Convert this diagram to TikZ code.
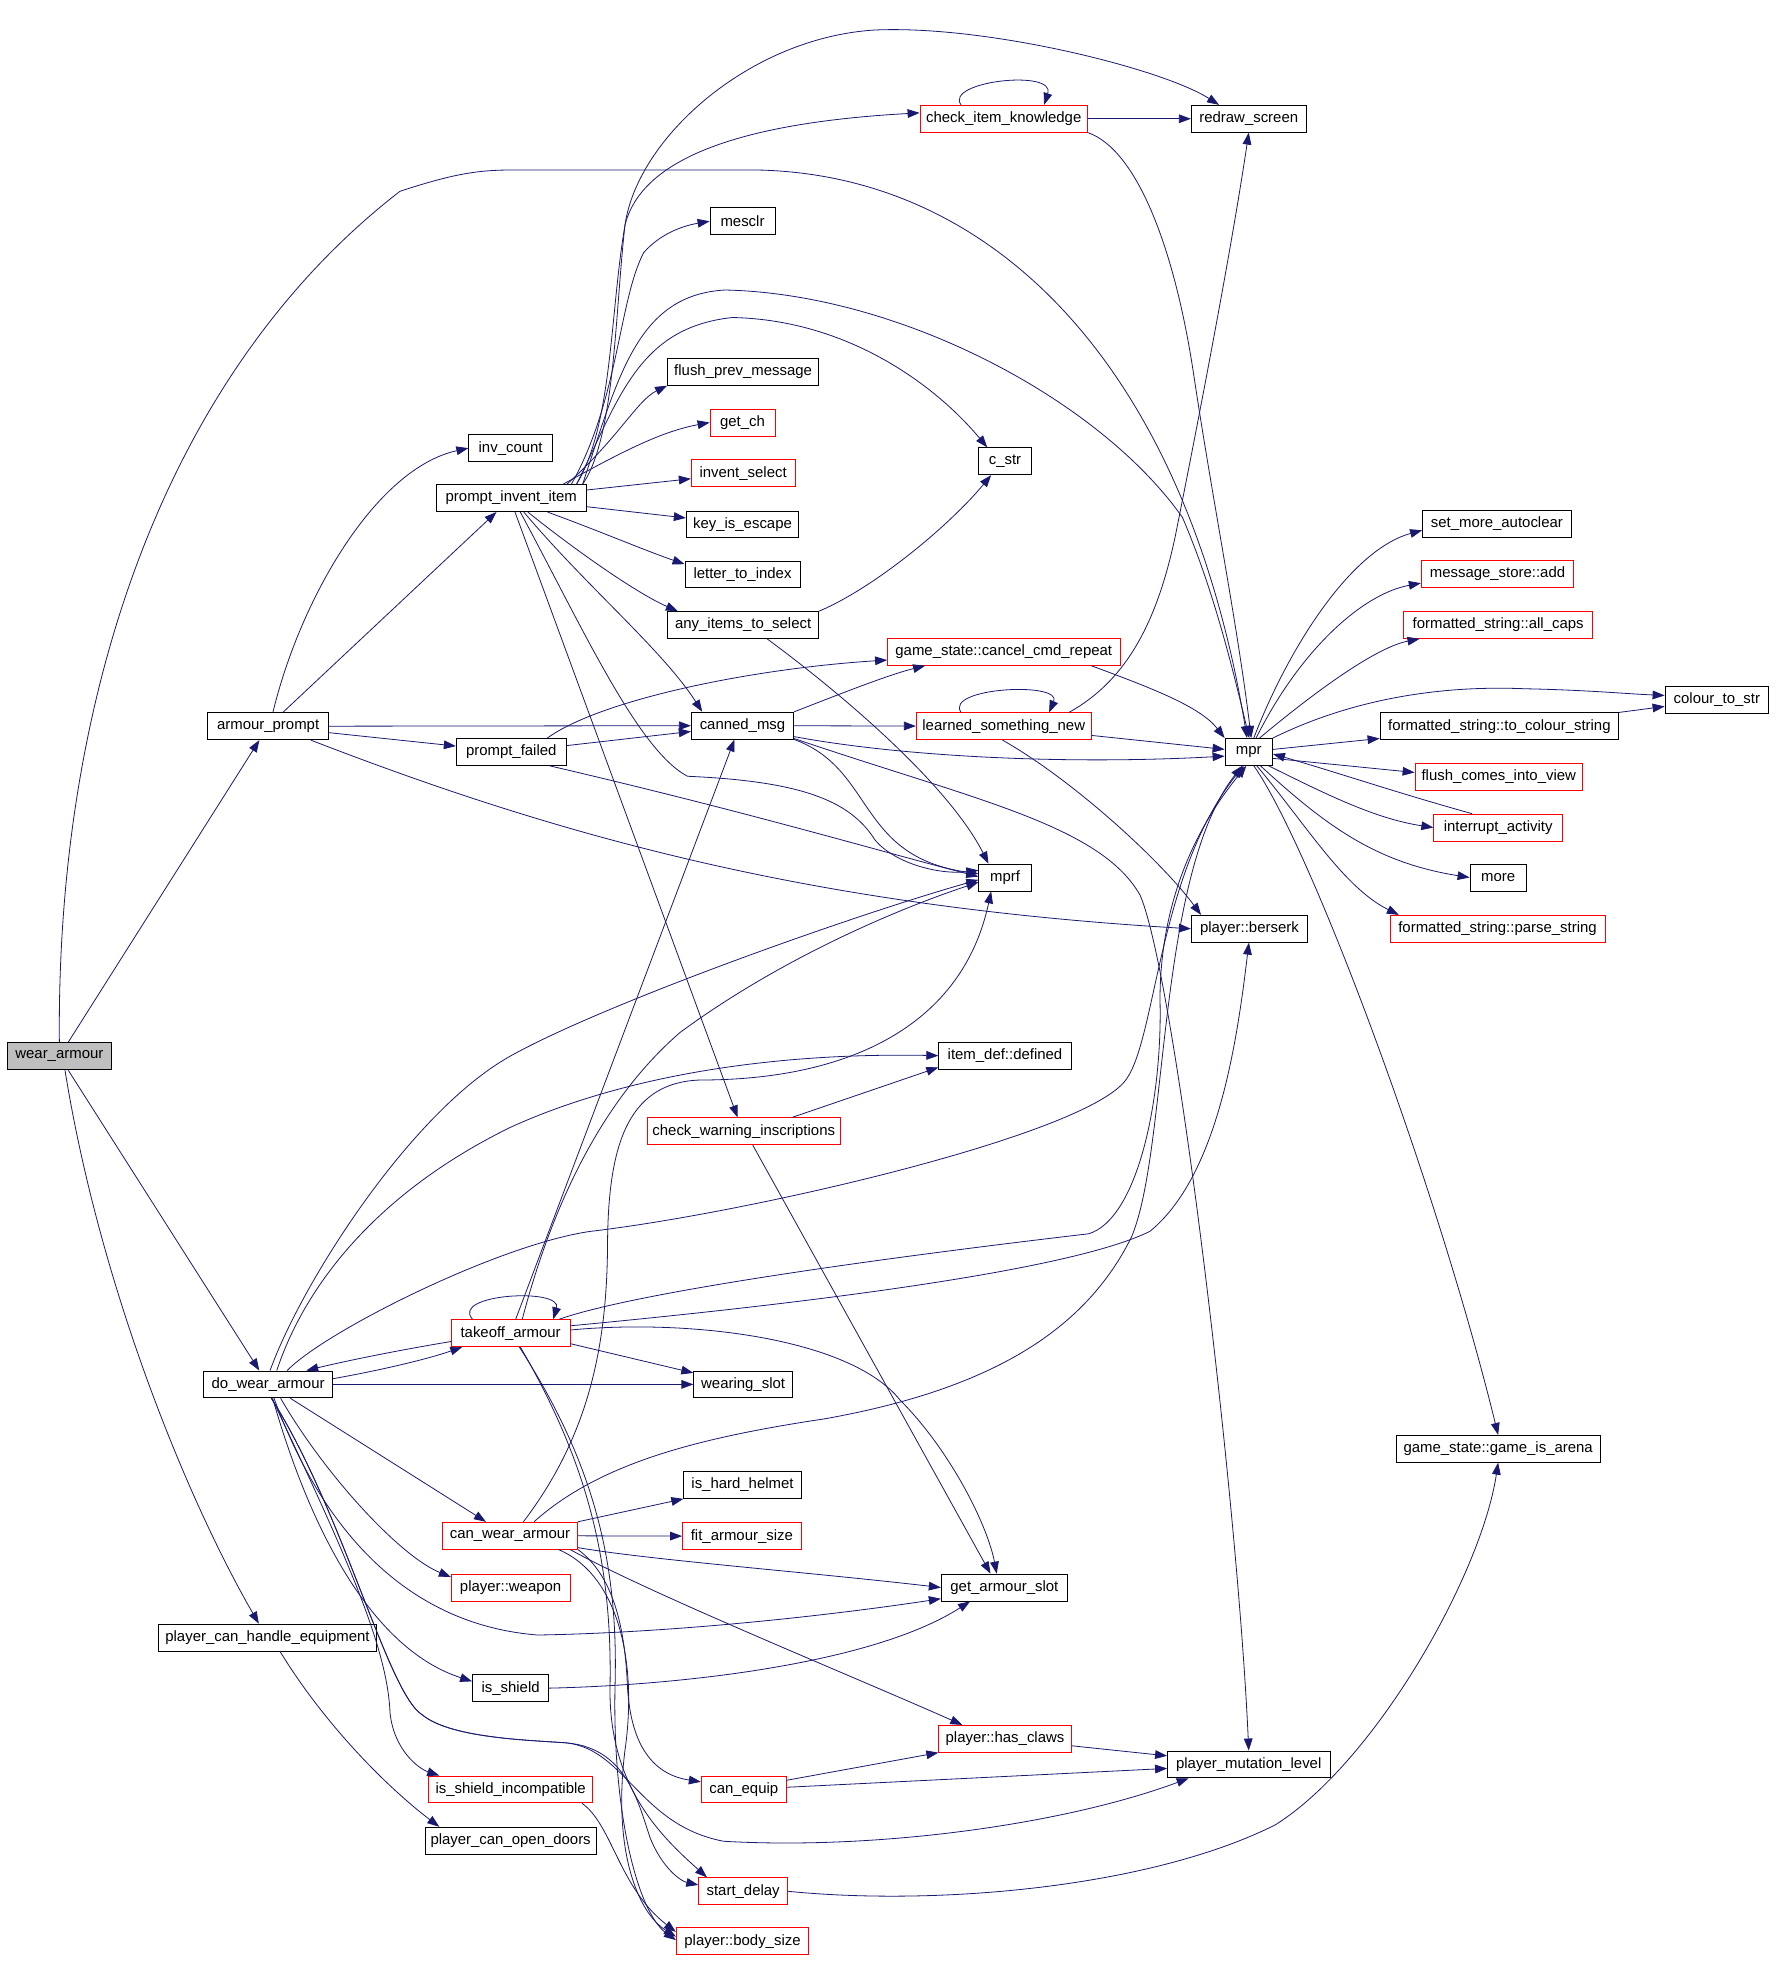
\documentclass[tikz,border=0pt]{standalone}
\usepackage{fontspec}
\setmainfont{Liberation Sans}
\usetikzlibrary{arrows.meta}
\definecolor{edgeblue}{HTML}{191970}
\definecolor{rootgray}{HTML}{BFBFBF}
\tikzset{
  fn/.style={draw=black, line width=0.6pt, fill=white, minimum height=20.2pt, inner sep=0pt, font=\fontsize{11.2}{13}\selectfont},
  fnred/.style={fn, draw=red},
  fnroot/.style={fn, fill=rootgray},
  bw/.style={minimum width=#1*0.9375pt},
  call/.style={draw=edgeblue, line width=0.6pt, -{Triangle[length=9pt,width=6.5pt]}}
}
\begin{document}
\begin{tikzpicture}[x=0.9375pt,y=-0.9375pt]
\fill[white] (0,0) rectangle (1420.8,1568.8);
\useasboundingbox (0,0) rectangle (1420.8,1568.8);
% functions
\node[fnroot,bw=83] (wear) at (47.5,845) {wear\_armour};
\node[fn,bw=97] (aprompt) at (214.5,581) {armour\_prompt};
\node[fn,bw=103] (dowear) at (214.5,1107.5) {do\_wear\_armour};
\node[fn,bw=174] (handle) at (214,1310) {player\_can\_handle\_equipment};
\node[fn,bw=67] (invcount) at (408.5,358.5) {inv\_count};
\node[fn,bw=120] (pii) at (409,398.5) {prompt\_invent\_item};
\node[fn,bw=88] (pfailed) at (409,601.5) {prompt\_failed};
\node[fnred,bw=95] (takeoff) at (408.5,1066.5) {takeoff\_armour};
\node[fnred,bw=108] (canwear) at (408,1228.5) {can\_wear\_armour};
\node[fnred,bw=95] (weapon) at (408.5,1270) {player::weapon};
\node[fn,bw=61] (isshield) at (408.5,1350.5) {is\_shield};
\node[fnred,bw=131] (shieldinc) at (408.5,1431.5) {is\_shield\_incompatible};
\node[fn,bw=137] (opendoors) at (408.5,1472.5) {player\_can\_open\_doors};
\node[fn,bw=52] (mesclr) at (594,177) {mesclr};
\node[fn,bw=121] (flushprev) at (594.5,297.5) {flush\_prev\_message};
\node[fnred,bw=52] (getch) at (594,338) {get\_ch};
\node[fnred,bw=83] (invsel) at (594.5,378.5) {invent\_select};
\node[fn,bw=90] (keyesc) at (594,419.5) {key\_is\_escape};
\node[fn,bw=92] (lettoidx) at (594,459.5) {letter\_to\_index};
\node[fn,bw=121] (anyitems) at (594.5,500) {any\_items\_to\_select};
\node[fn,bw=82] (canned) at (594,580.5) {canned\_msg};
\node[fnred,bw=154] (warnins) at (595,905) {check\_warning\_inscriptions};
\node[fn,bw=79] (wslot) at (594.5,1107.5) {wearing\_slot};
\node[fn,bw=94] (hardhelm) at (594,1188) {is\_hard\_helmet};
\node[fnred,bw=95] (fitsize) at (593.5,1229) {fit\_armour\_size};
\node[fnred,bw=68] (canequip) at (595,1431.5) {can\_equip};
\node[fnred,bw=71] (startdelay) at (594.5,1513) {start\_delay};
\node[fnred,bw=106] (bodysize) at (594,1553) {player::body\_size};
\node[fnred,bw=134] (itemknow) at (803,95) {check\_item\_knowledge};
\node[fn,bw=42] (cstr) at (804,369) {c\_str};
\node[fnred,bw=186] (cancelrep) at (803,521.5) {game\_state::cancel\_cmd\_repeat};
\node[fnred,bw=140] (learned) at (803,581) {learned\_something\_new};
\node[fn,bw=42] (mprf) at (804,702) {mprf};
\node[fn,bw=106] (defined) at (804,844.5) {item\_def::defined};
\node[fn,bw=101] (armslot) at (803.5,1270) {get\_armour\_slot};
\node[fnred,bw=106] (claws) at (804,1391) {player::has\_claws};
\node[fn,bw=92] (redraw) at (999,95) {redraw\_screen};
\node[fn,bw=38] (mpr) at (999,601.5) {mpr};
\node[fn,bw=93] (berserk) at (999.5,743) {player::berserk};
\node[fn,bw=130] (mutlevel) at (999,1411.5) {player\_mutation\_level};
\node[fn,bw=119] (moreauto) at (1197.5,419) {set\_more\_autoclear};
\node[fnred,bw=122] (msgadd) at (1198,459) {message\_store::add};
\node[fnred,bw=151] (allcaps) at (1198.5,500) {formatted\_string::all\_caps};
\node[fn,bw=191] (tocolour) at (1199.5,581) {formatted\_string::to\_colour\_string};
\node[fnred,bw=134] (flushview) at (1199,621.5) {flush\_comes\_into\_view};
\node[fnred,bw=103] (interrupt) at (1198.5,662) {interrupt\_activity};
\node[fn,bw=45] (more) at (1198.5,702) {more};
\node[fnred,bw=172] (parsestr) at (1198,743) {formatted\_string::parse\_string};
\node[fn,bw=163] (arena) at (1198.5,1159) {game\_state::game\_is\_arena};
\node[fn,bw=83] (colourstr) at (1373.5,560) {colour\_to\_str};
% calls from wear_armour
\draw[call] (wear) -- (aprompt);
\draw[call] (wear.north) .. controls (45,560) and (130,300) .. (320,153) .. controls (360,140) and (380,136) .. (409,136) -- (606,136) .. controls (800,140) and (950,300) .. (mpr.97);
\draw[call] (wear) -- (dowear);
\draw[call] (wear.-68) .. controls (80,1030) and (150,1200) .. (handle.122);
% armour_prompt
\draw[call] (aprompt.71) .. controls (240,480) and (300,375) .. (invcount.west);
\draw[call] (aprompt) -- (pii);
\draw[call] (aprompt) -- (canned);
\draw[call] (aprompt) -- (pfailed);
\draw[call] (aprompt.-18) .. controls (450,670) and (650,725) .. (berserk.west);
% prompt_invent_item
\draw[call] (pii.11) .. controls (492,350) and (492,250) .. (500,180) .. controls (510,140) and (560,100) .. (itemknow.176);
\draw[call] (pii.12) .. controls (490,340) and (488,250) .. (500,180) .. controls (510,110) and (600,30) .. (700,24) .. controls (790,20) and (930,55) .. (redraw.155);
\draw[call] (pii.13) .. controls (495,320) and (495,240) .. (515,202) .. controls (530,185) and (550,180) .. (mesclr.west);
\draw[call] (pii.11) .. controls (495,300) and (510,236) .. (580,232) .. controls (720,235) and (880,320) .. (946,414) .. controls (970,470) and (985,530) .. (mpr.88);
\draw[call] (pii.12) .. controls (495,320) and (510,262) .. (586,254) .. controls (680,256) and (750,310) .. (cstr.142);
\draw[call] (pii.14) .. controls (495,350) and (510,320) .. (flushprev.south west);
\draw[call] (pii.15) .. controls (500,360) and (530,345) .. (getch.west);
\draw[call] (pii) -- (invsel);
\draw[call] (pii) -- (keyesc);
\draw[call] (pii.-21) .. controls (480,425) and (515,440) .. (lettoidx.170);
\draw[call] (pii.-40) .. controls (460,440) and (510,475) .. (anyitems.168);
\draw[call] (pii.-48) .. controls (470,470) and (530,520) .. (canned.161);
\draw[call] (pii.-57) .. controls (465,500) and (510,600) .. (550,621) .. controls (640,625) and (680,640) .. (700,672) .. controls (715,690) and (750,700) .. (mprf.165);
\draw[call] (pii.-75) -- (warnins.114);
% any_items_to_select
\draw[call] (anyitems.north east) .. controls (700,470) and (760,420) .. (cstr.-135);
\draw[call] (anyitems.-30) .. controls (680,560) and (760,630) .. (mprf.140);
% prompt_failed
\draw[call] (pfailed) -- (canned);
\draw[call] (pfailed.21) .. controls (480,560) and (600,535) .. (cancelrep.184);
\draw[call] (pfailed.-20) .. controls (600,650) and (700,680) .. (mprf.178);
% canned_msg
\draw[call] (canned.15) .. controls (670,556) and (710,540) .. (cancelrep.-170);
\draw[call] (canned) -- (learned);
\draw[call] (canned.-12) .. controls (720,605) and (850,612) .. (mpr.190);
\draw[call] (canned.south east) .. controls (700,615) and (685,685) .. (mprf.172);
\draw[call] (canned.-14) .. controls (780,640) and (880,660) .. (912,716) .. controls (940,780) and (990,1200) .. (mutlevel.north);
% check_item_knowledge
\draw[call] (itemknow.162) .. controls (755,65) and (845,55) .. (itemknow.19);
\draw[call] (itemknow) -- (redraw);
\draw[call] (itemknow.south east) .. controls (910,120) and (940,200) .. (955,300) .. controls (970,400) and (990,500) .. (mpr.80);
% learned_something_new
\draw[call] (learned.162) .. controls (755,550) and (850,545) .. (learned.17);
\draw[call] (learned.12) .. controls (900,545) and (925,500) .. (940,430) .. controls (960,330) and (985,200) .. (redraw.south);
\draw[call] (learned) -- (mpr);
\draw[call] (learned.-95) .. controls (860,625) and (930,690) .. (berserk.164);
% game_state::cancel_cmd_repeat
\draw[call] (cancelrep.-9) .. controls (920,550) and (960,565) .. (mpr.north west);
% mpr
\draw[call] (mpr.70) .. controls (1030,520) and (1080,440) .. (moreauto.185);
\draw[call] (mpr.62) .. controls (1040,520) and (1090,475) .. (msgadd.187);
\draw[call] (mpr.52) .. controls (1050,555) and (1100,518) .. (allcaps.-170);
\draw[call] (mpr.north east) .. controls (1080,560) and (1150,548) .. (1220,551) .. controls (1270,552) and (1300,555) .. (colourstr.175);
\draw[call] (mpr) -- (tocolour);
\draw[call] (mpr.-15) -- (flushview.177);
\draw[call] (mpr.-35) .. controls (1060,635) and (1100,655) .. (interrupt.west);
\draw[call] (interrupt.152) .. controls (1120,635) and (1070,618) .. (mpr.-5);
\draw[call] (mpr.-50) .. controls (1060,660) and (1100,690) .. (more.west);
\draw[call] (mpr.-60) .. controls (1045,660) and (1075,710) .. (parsestr.172);
\draw[call] (mpr.-70) .. controls (1050,680) and (1150,950) .. (arena.north);
\draw[call] (tocolour.north east) -- (colourstr.-173);
% check_warning_inscriptions
\draw[call] (warnins.16) -- (defined.190);
\draw[call] (warnins.-57) -- (armslot.135);
% do_wear_armour
\draw[call] (dowear.82) .. controls (241,1027) and (328,890) .. (408,845) .. controls (483,803) and (683,732) .. (mprf.185);
\draw[call] (dowear.58) .. controls (240,1040) and (290,960) .. (408,902) .. controls (500,860) and (620,842) .. (defined.west);
\draw[call] (dowear.36) .. controls (260,1065) and (400,995) .. (473,985) .. controls (600,970) and (860,910) .. (899,866) .. controls (925,837) and (925,700) .. (mpr.-110);
\draw[call] (dowear.5) .. controls (300,1097) and (340,1088) .. (takeoff.-164);
\draw[call] (dowear) -- (wslot);
\draw[call] (dowear.-32) -- (canwear.150);
\draw[call] (dowear.-48) .. controls (260,1180) and (320,1245) .. (weapon.170);
\draw[call] (dowear.-67) .. controls (260,1230) and (330,1300) .. (430,1308) .. controls (550,1306) and (680,1290) .. (armslot.-170);
\draw[call] (dowear.-72) .. controls (250,1230) and (300,1320) .. (isshield.170);
\draw[call] (dowear.-75) .. controls (280,1250) and (310,1320) .. (312,1370) .. controls (315,1400) and (335,1415) .. (shieldinc.169);
\draw[call] (dowear.-77) .. controls (275,1210) and (310,1355) .. (338,1372) .. controls (360,1390) and (420,1392) .. (449,1394) .. controls (500,1396) and (510,1460) .. (579,1473) .. controls (700,1480) and (850,1460) .. (mutlevel.-167);
\draw[call] (dowear.-77) .. controls (275,1210) and (310,1355) .. (338,1372) .. controls (360,1390) and (420,1392) .. (449,1394) .. controls (500,1396) and (510,1440) .. (520,1470) .. controls (530,1495) and (545,1505) .. (startdelay.172);
% takeoff_armour
\draw[call] (takeoff.160) .. controls (360,1035) and (450,1030) .. (takeoff.18);
\draw[call] (takeoff.188) .. controls (320,1080) and (280,1088) .. (dowear.20);
\draw[call] (takeoff.70) -- (canned.-120);
\draw[call] (takeoff.50) .. controls (435,990) and (470,890) .. (544,826) .. controls (620,770) and (710,730) .. (mprf.190);
\draw[call] (takeoff.16) .. controls (520,1030) and (760,1000) .. (871,987) .. controls (910,975) and (930,880) .. (928,800) .. controls (928,700) and (975,640) .. (mpr.-100);
\draw[call] (takeoff.7) .. controls (600,1047) and (850,1020) .. (920,985) .. controls (975,940) and (990,830) .. (berserk.-92);
\draw[call] (takeoff.-10) -- (wslot.167);
\draw[call] (takeoff.3) .. controls (550,1055) and (680,1070) .. (720,1120) .. controls (760,1160) and (790,1220) .. (armslot.119);
\draw[call] (takeoff.-55) .. controls (470,1170) and (490,1250) .. (488,1350) .. controls (487,1430) and (530,1470) .. (startdelay.159);
\draw[call] (takeoff.-58) .. controls (475,1170) and (495,1250) .. (492,1350) .. controls (490,1450) and (510,1530) .. (bodysize.179);
% can_wear_armour
\draw[call] (canwear.46) .. controls (470,1150) and (485,1080) .. (486,1000) .. controls (486,920) and (500,866) .. (560,864) .. controls (680,864) and (770,820) .. (mprf.-135);
\draw[call] (canwear.30) .. controls (480,1170) and (560,1150) .. (660,1135) .. controls (800,1110) and (870,1060) .. (905,990) .. controls (935,920) and (925,700) .. (mpr.-115);
\draw[call] (canwear.north east) -- (hardhelm.south west);
\draw[call] (canwear) -- (fitsize);
\draw[call] (canwear.-10) .. controls (520,1248) and (650,1258) .. (armslot.west);
\draw[call] (canwear.-13) .. controls (520,1275) and (680,1340) .. (claws.162);
\draw[call] (canwear.south east) .. controls (490,1260) and (500,1300) .. (502,1350) .. controls (505,1400) and (525,1420) .. (canequip.170);
\draw[call] (canwear.-16) .. controls (495,1260) and (510,1330) .. (500,1400) .. controls (490,1480) and (510,1530) .. (bodysize.176);
% the rest
\draw[call] (isshield.east) .. controls (550,1348) and (700,1330) .. (armslot.-158);
\draw[call] (shieldinc.-11) .. controls (490,1460) and (495,1510) .. (bodysize.172);
\draw[call] (handle.-48) .. controls (260,1380) and (310,1430) .. (opendoors.169);
\draw[call] (canequip.12) -- (claws.south west);
\draw[call] (canequip) -- (mutlevel);
\draw[call] (claws) -- (mutlevel);
\draw[call] (startdelay.east) .. controls (750,1525) and (920,1510) .. (1020,1460) .. controls (1100,1410) and (1185,1260) .. (arena.south);
\end{tikzpicture}
\end{document}
